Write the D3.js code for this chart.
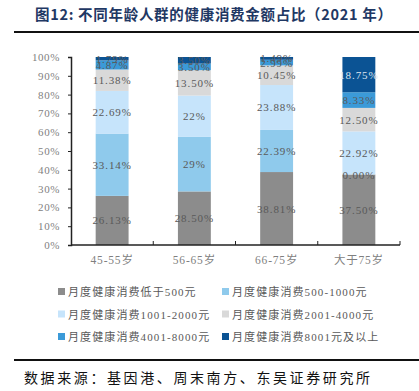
<!DOCTYPE html>
<html>
<head>
<meta charset="utf-8">
<script src="https://cdn.jsdelivr.net/npm/d3@7"></script>
<style>
  body { margin: 0; background: #fff; }
  text { font-family: "Liberation Serif", "Noto Sans CJK SC", serif; }
</style>
</head>
<body>
<svg id="chart" width="419" height="391"></svg>
<script>
// categories and series
var ageGroups = ['45-55岁', '56-65岁', '66-75岁', '大于75岁'];
var seriesNames = ['月度健康消费低于500元', '月度健康消费500-1000元', '月度健康消费1001-2000元',
                   '月度健康消费2001-4000元', '月度健康消费4001-8000元', '月度健康消费8001元及以上'];
var below500   = [26.13, 28.50, 38.81, 37.50];
var r500_1000  = [33.14, 29, 22.39, 0.00];
var r1001_2000 = [22.69, 22, 23.88, 22.92];
var r2001_4000 = [11.38, 13.50, 10.45, 12.50];
var r4001_8000 = [4.87, 3.50, 2.99, 8.33];
var above8001  = [1.79, 3.50, 1.49, 18.75];
// how each label is printed in the source
var labelText = [
  ['26.13%', '28.50%', '38.81%', '37.50%'],
  ['33.14%', '29%', '22.39%', '0.00%'],
  ['22.69%', '22%', '23.88%', '22.92%'],
  ['11.38%', '13.50%', '10.45%', '12.50%'],
  ['4.87%', '3.50%', '2.99%', '8.33%'],
  ['1.79%', '3.50%', '1.49%', '18.75%']
];
var yTicks = [0, 10, 20, 30, 40, 50, 60, 70, 80, 90, 100];
var colors = ['#8c8c8c', '#8fcaec', '#c6e4fb', '#d9d9d9', '#3b9ad8', '#0b5394'];

var svg = d3.select('#chart');

// title + rule under it
svg.append('text')
  .attr('x', 35).attr('y', 20)
  .attr('fill', '#1f3864')
  .style('font-family', '"Noto Sans CJK SC", sans-serif')
  .style('font-size', '14.5px').style('font-weight', 'bold').style('letter-spacing', '0.7px')
  .text('图12:  不同年龄人群的健康消费金额占比（2021 年）');
svg.append('line').attr('x1', 14).attr('x2', 419).attr('y1', 32).attr('y2', 32)
  .attr('stroke', '#111').attr('stroke-width', 2);

var margin = { left: 71, right: 400, top: 57, bottom: 245 };

var x = d3.scaleBand().domain(ageGroups).range([margin.left, margin.right]).paddingInner(0.6).paddingOuter(0.3);
var y = d3.scaleLinear().domain([0, 100]).range([margin.bottom, margin.top]);

// build stacked rows from the series arrays
var allSeries = [below500, r500_1000, r1001_2000, r2001_4000, r4001_8000, above8001];
var rows = ageGroups.map(function(g, i) {
  var r = { group: g };
  allSeries.forEach(function(s, k) { r['s' + k] = s[i]; });
  return r;
});
var keys = allSeries.map(function(s, k) { return 's' + k; });
var stacked = d3.stack().keys(keys)(rows);

// y axis
var yAxis = svg.append('g')
  .attr('transform', 'translate(' + margin.left + ',0)')
  .call(d3.axisLeft(y).tickValues(yTicks).tickFormat(function(d) { return d + '%'; }).tickSize(3).tickPadding(8));
yAxis.select('.domain').attr('stroke', '#222').attr('stroke-width', 1.5);
yAxis.selectAll('.tick line').attr('stroke', '#222');
yAxis.selectAll('.tick text').attr('fill', '#7f7f7f').style('font-size', '11px').style('letter-spacing', '0.6px');

// bars
var layer = svg.selectAll('.layer').data(stacked).enter().append('g')
  .attr('class', 'layer').attr('fill', function(d, i) { return colors[i]; });
layer.selectAll('rect').data(function(d) { return d; }).enter().append('rect')
  .attr('x', function(d) { return x(d.data.group); })
  .attr('width', x.bandwidth())
  .attr('y', function(d) { return y(d[1]); })
  .attr('height', function(d) { return y(d[0]) - y(d[1]); });

// x axis (drawn after bars so the line sits on top)
var xAxis = svg.append('g').attr('transform', 'translate(0,' + margin.bottom + ')');
xAxis.append('line').attr('x1', margin.left).attr('x2', margin.right)
  .attr('stroke', '#222').attr('stroke-width', 1.5);
var step = (margin.right - margin.left) / ageGroups.length;
xAxis.selectAll('.xt').data(d3.range(1, ageGroups.length + 1)).enter().append('line')
  .attr('x1', function(d) { return margin.left + d * step; })
  .attr('x2', function(d) { return margin.left + d * step; })
  .attr('y1', 0).attr('y2', -4).attr('stroke', '#222');
xAxis.selectAll('.xl').data(ageGroups).enter().append('text')
  .attr('x', function(d) { return x(d) + x.bandwidth() / 2; })
  .attr('y', 19).attr('text-anchor', 'middle')
  .attr('fill', '#7f7f7f').style('font-size', '11.5px').style('letter-spacing', '0.8px')
  .text(function(d) { return d; });

// data labels
stacked.forEach(function(s, k) {
  svg.selectAll('.lbl' + k).data(s).enter().append('text')
    .attr('x', function(d) { return x(d.data.group) + x.bandwidth() / 2; })
    .attr('y', function(d) { return (y(d[0]) + y(d[1])) / 2 + 4; })
    .attr('text-anchor', 'middle')
    .attr('fill', function(d) { return (k === 5 && y(d[0]) - y(d[1]) > 20) ? '#dde6f0' : '#595959'; })
    .style('font-size', '11px').style('letter-spacing', '0.9px')
    .text(function(d, i) { return labelText[k][i]; });
});

// legend
var legend = svg.append('g');
seriesNames.forEach(function(name, k) {
  var lx = (k % 2 === 0) ? 58 : 222,
      ly = 292 + Math.floor(k / 2) * 22.5;
  legend.append('rect').attr('x', lx).attr('y', ly - 4).attr('width', 7).attr('height', 7).attr('fill', colors[k]);
  legend.append('text').attr('x', lx + 10).attr('y', ly + 4)
    .attr('fill', '#595959').style('font-size', '11px').style('letter-spacing', '1.1px')
    .text(name);
});

// bottom rule + source
svg.append('line').attr('x1', 14).attr('x2', 419).attr('y1', 360).attr('y2', 360)
  .attr('stroke', '#111').attr('stroke-width', 2);
svg.append('text').attr('x', 24).attr('y', 383)
  .attr('fill', '#111')
  .style('font-family', '"Noto Sans CJK SC", sans-serif')
  .style('font-size', '14px').style('letter-spacing', '2.6px')
  .text('数据来源：基因港、周末南方、东吴证券研究所');
</script>
</body>
</html>
